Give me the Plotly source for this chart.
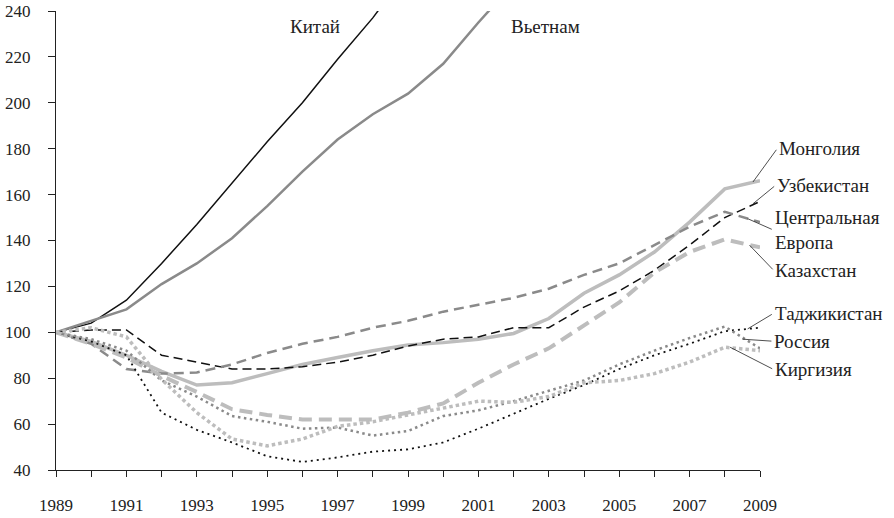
import plotly.graph_objects as go

# -------------------------------
# data (index, 1989 = 100)
# -------------------------------
years = list(range(1989, 2010))

china = [100, 104, 114, 130, 147, 165, 183, 200, 219, 237, 258, 280, 300, 320, 340, 360, 380, 400, 420, 440, 460]
vietnam = [100, 105, 110, 121, 130, 141, 155, 170, 184, 195, 204, 217, 235, 252, 268, 283, 298, 313, 328, 343, 355]
mongolia = [100, 96, 90, 83, 77, 78, 82, 86, 89, 92, 94.5, 95.5, 97, 99.5, 106, 117, 125, 135, 148, 162.5, 166]
uzbekistan = [100, 101, 101, 90, 87, 84, 84, 85, 87, 90, 94, 97, 98, 102, 102, 111, 118, 127, 138, 150, 157]
central_europe = [100, 95, 84, 82, 82.5, 86, 91, 95, 98, 102, 105, 109, 112, 115, 119, 125, 130, 138, 146, 152.5, 148]
kazakhstan = [100, 95, 89, 81, 74, 66.5, 64, 62, 62, 62, 65, 69, 78, 86, 93, 103, 113, 126, 135, 140.5, 137]
tajikistan = [100, 96, 90, 65, 57.5, 52, 46, 43.5, 45.5, 48, 49, 52, 58, 64.5, 71, 77, 84, 90, 95, 100.5, 102]
russia = [100, 97, 92, 79, 72, 63.5, 61, 58, 58.5, 55, 57, 63.5, 66, 70, 74.5, 79, 86, 92, 97.5, 102.5, 93]
kirgizia = [100, 102, 98, 79.5, 65, 53.5, 50.5, 53.5, 59, 61, 64, 67, 70, 69.5, 72, 78, 79, 82, 87, 93.5, 92]

x_tick_vals = years
x_tick_text = [str(y) if y % 2 == 1 else "" for y in years]
y_tick_vals = [40, 60, 80, 100, 120, 140, 160, 180, 200, 220, 240]

BLACK = "#111111"
MID = "#8a8a8a"
LIGHT = "#bdbdbd"
FONT = "Liberation Serif"

series = [
    # name, values, color, width, dash
    ("Китай", china, BLACK, 1.5, "solid"),
    ("Вьетнам", vietnam, MID, 2.5, "solid"),
    ("Монголия", mongolia, LIGHT, 3.5, "solid"),
    ("Узбекистан", uzbekistan, BLACK, 1.5, "9px,5px"),
    ("Центральная Европа", central_europe, MID, 2.5, "10px,6px"),
    ("Казахстан", kazakhstan, LIGHT, 4, "13px,7px"),
    ("Таджикистан", tajikistan, BLACK, 1.8, "2px,4px"),
    ("Россия", russia, MID, 2.5, "2.5px,3.5px"),
    ("Киргизия", kirgizia, LIGHT, 3.5, "3.5px,3px"),
]

fig = go.Figure()
for name, vals, color, width, dash in series:
    fig.add_trace(go.Scatter(
        x=years, y=vals, mode="lines", name=name,
        line=dict(color=color, width=width, dash=dash),
        showlegend=False,
    ))

# label annotations: (text, head x, head y, ax, ay)
labels = [
    ("Монголия", 2008.8, 165.5, 24, -33),
    ("Узбекистан", 2008.8, 156, 22, -18),
    ("Центральная<br>Европа", 2008.65, 149.5, 25, 11),
    ("Казахстан", 2008.7, 138, 24, 25),
    ("Таджикистан", 2008.65, 101.5, 25, -15),
    ("Россия", 2008.5, 97, 30, 2),
    ("Киргизия", 2008.15, 93.5, 43, 22),
]
for text, hx, hy, ax, ay in labels:
    fig.add_annotation(
        x=hx, y=hy, text=text, showarrow=True, arrowhead=0, arrowwidth=0.8,
        arrowcolor="#222", ax=ax, ay=ay, xanchor="left", align="left",
        standoff=0, startstandoff=1,
        font=dict(family=FONT, size=19, color="#222"),
    )

fig.add_annotation(x=1996.36, y=233.3, text="Китай", showarrow=False,
                   font=dict(family=FONT, size=19, color="#222"))
fig.add_annotation(x=2002.92, y=233.3, text="Вьетнам", showarrow=False,
                   font=dict(family=FONT, size=19, color="#222"))

fig.update_layout(
    width=894, height=518,
    paper_bgcolor="white", plot_bgcolor="white",
    margin=dict(l=56, r=134, t=11, b=48),
    font=dict(family=FONT, size=17, color="#222"),
)
fig.update_xaxes(
    range=[1989, 2009], tickvals=x_tick_vals, ticktext=x_tick_text,
    showgrid=False, zeroline=False, showline=True, linecolor="#222", linewidth=1,
    ticks="outside", ticklen=6, tickcolor="#222", ticklabelstandoff=14,
    tickfont=dict(family=FONT, size=17), automargin=False,
)
fig.update_yaxes(
    range=[40, 240], tickvals=y_tick_vals,
    showgrid=False, zeroline=False, showline=True, linecolor="#222", linewidth=1,
    ticks="outside", ticklen=7, tickcolor="#222", ticklabelstandoff=14,
    tickfont=dict(family=FONT, size=17), automargin=False,
)

# drop the default 8px page margin so the figure sits at the window corner
fig.write_html(
    "out.html",
    config={"displayModeBar": False},
    post_script="document.body.style.margin='0';",
)
